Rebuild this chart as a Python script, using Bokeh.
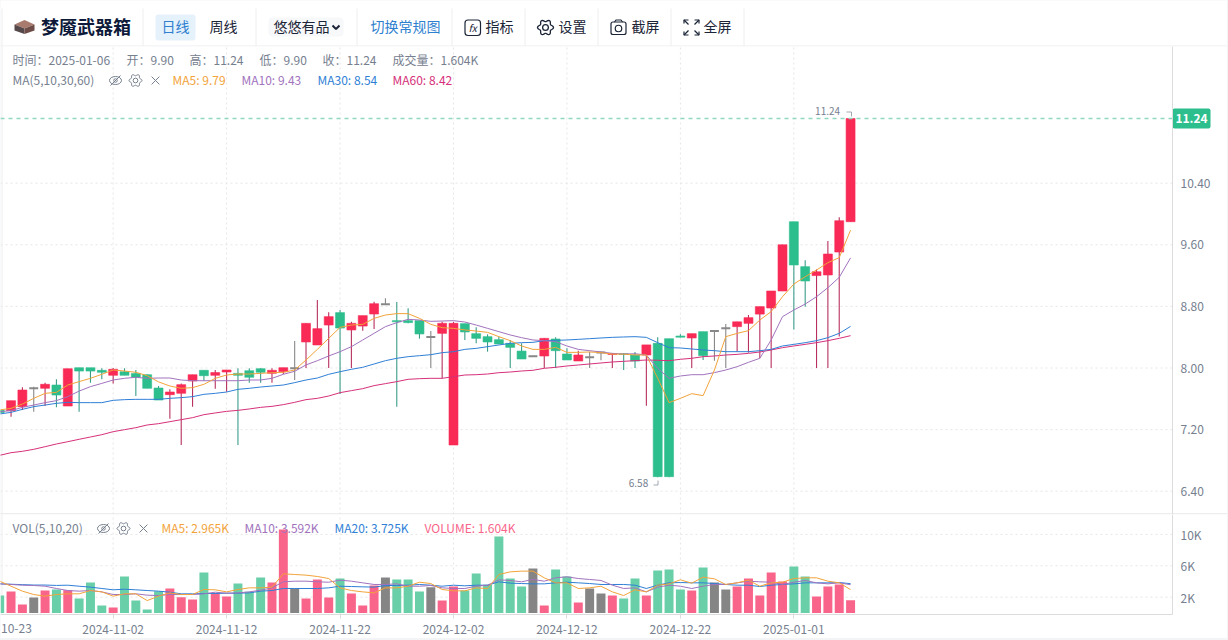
import math
from bokeh.plotting import figure
from bokeh.embed import file_html
from bokeh.resources import INLINE
from bokeh.layouts import column
from bokeh.core.properties import value
from bokeh.models import Range1d, FixedTicker, LinearAxis, NumeralTickFormatter

FONT = "Noto Sans CJK SC"

opens = [7.45,7.446,7.498,7.736,7.736,7.779,7.506,8.004,8.004,7.97,7.905,7.952,7.93,7.913,7.74,7.654,7.671,7.831,7.97,7.905,
         7.948,7.93,7.965,7.991,7.931,7.952,7.996,8.338,8.299,8.558,8.719,8.494,8.545,8.701,8.827,8.615,8.615,8.615,8.403,8.45,
         7.0,8.576,8.446,8.407,8.368,8.32,8.22,8.152,8.156,8.377,8.182,8.091,8.139,8.2,8.176,8.185,8.169,8.169,8.32,8.381,
         8.415,8.39,8.472,8.48,8.515,8.537,8.58,8.70,8.779,9.0,9.90,9.316,9.2,9.208,9.506,9.90]
highs = [7.46,7.576,7.749,7.758,7.81,7.853,7.991,8.004,8.0,7.996,8.0,7.996,7.974,7.92,7.766,7.723,7.80,7.913,7.97,7.974,
         7.974,7.996,7.996,7.996,7.996,8.004,8.35,8.58,8.883,8.723,8.753,8.60,8.68,8.861,8.905,8.857,8.775,8.615,8.48,8.60,
         8.60,8.576,8.528,8.437,8.407,8.364,8.32,8.16,8.39,8.398,8.255,8.225,8.212,8.208,8.19,8.19,8.208,8.30,8.398,8.381,
         8.437,8.446,8.472,8.49,8.571,8.60,8.688,8.797,9.0,9.60,9.90,9.40,9.28,9.65,9.957,11.24]
lows = [7.40,7.368,7.455,7.433,7.506,7.489,7.506,7.433,7.81,7.853,7.80,7.905,7.636,7.736,7.584,7.342,7.0,7.498,7.835,7.732,
        7.693,7.0,7.81,7.81,7.81,7.922,7.844,8.0,8.299,8.0,7.662,8.0,8.485,8.506,8.827,7.498,8.58,8.381,8.0,7.866,
        7.0,8.364,8.32,8.212,8.312,8.0,8.117,8.145,8.0,8.0,8.104,8.091,8.0,8.1,8.0,7.974,8.0,7.51,6.58,6.58,
        8.40,8.0,8.104,8.095,8.0,8.212,8.2,8.126,8.0,9.0,8.5,8.797,8.0,8.0,8.41,9.90]
closes = [7.42,7.576,7.714,7.736,7.788,7.649,7.991,7.96,7.96,7.944,7.983,7.905,7.879,7.736,7.584,7.688,7.784,7.913,7.90,7.94,
          7.974,7.905,7.879,7.944,7.97,8.004,7.996,8.58,8.511,8.667,8.519,8.58,8.68,8.835,8.827,8.60,8.589,8.442,8.403,8.58,
          8.58,8.468,8.385,8.338,8.312,8.268,8.117,8.152,8.385,8.225,8.104,8.169,8.139,8.2,8.185,8.176,8.09,8.30,6.589,6.589,
          8.40,8.446,8.16,8.48,8.515,8.60,8.654,8.797,9.0,9.60,9.338,9.13,9.25,9.48,9.913,11.24]
ma5 = [7.455,7.476,7.532,7.606,7.671,7.684,7.779,7.823,7.866,7.918,7.974,7.961,7.944,7.90,7.82,7.766,7.736,7.745,7.788,7.866,
       7.909,7.922,7.922,7.93,7.939,7.944,7.974,8.104,8.242,8.385,8.528,8.558,8.567,8.645,8.688,8.706,8.706,8.645,8.567,8.524,
       8.515,8.494,8.48,8.463,8.407,8.355,8.286,8.242,8.242,8.268,8.203,8.203,8.208,8.2,8.18,8.18,8.169,8.169,7.866,7.55,
       7.606,7.667,7.641,7.974,8.407,8.45,8.485,8.623,8.732,8.926,9.09,9.186,9.273,9.368,9.433,9.79]
ma10 = [7.433,7.446,7.489,7.519,7.55,7.576,7.628,7.70,7.758,7.80,7.844,7.866,7.879,7.866,7.87,7.87,7.844,7.835,7.835,7.835,
        7.835,7.835,7.844,7.844,7.866,7.918,7.957,8.04,8.095,8.156,8.212,8.277,8.364,8.45,8.537,8.589,8.632,8.623,8.606,8.61,
        8.615,8.597,8.558,8.515,8.472,8.429,8.394,8.364,8.355,8.342,8.286,8.242,8.225,8.208,8.19,8.182,8.185,8.169,7.996,7.866,
        7.896,7.913,7.913,7.94,7.974,8.017,8.074,8.126,8.364,8.667,8.753,8.831,8.926,9.043,9.177,9.43]
ma30 = [7.403,7.424,7.463,7.498,7.519,7.541,7.554,7.55,7.55,7.55,7.58,7.589,7.593,7.593,7.593,7.606,7.615,7.628,7.658,7.671,
        7.688,7.723,7.736,7.753,7.766,7.779,7.81,7.844,7.87,7.918,7.952,7.983,8.009,8.052,8.095,8.126,8.147,8.16,8.173,8.199,
        8.212,8.242,8.255,8.277,8.299,8.32,8.329,8.333,8.355,8.359,8.364,8.372,8.381,8.39,8.398,8.403,8.407,8.398,8.329,8.264,
        8.26,8.247,8.234,8.225,8.212,8.212,8.212,8.225,8.242,8.286,8.307,8.329,8.355,8.394,8.45,8.54]
ma60 = [6.866,6.9,6.918,6.944,6.978,7.013,7.043,7.074,7.104,7.134,7.173,7.199,7.225,7.26,7.277,7.303,7.329,7.355,7.394,7.416,
        7.437,7.45,7.468,7.489,7.502,7.524,7.554,7.589,7.606,7.636,7.68,7.706,7.732,7.771,7.797,7.823,7.853,7.861,7.866,7.866,
        7.887,7.909,7.913,7.922,7.939,7.948,7.961,7.97,7.996,8.009,8.026,8.039,8.052,8.065,8.078,8.087,8.095,8.104,8.1,8.095,
        8.113,8.126,8.147,8.156,8.169,8.177,8.19,8.208,8.234,8.264,8.286,8.307,8.329,8.355,8.385,8.42]
vols = [2.21,2.72,1.06,1.96,2.85,2.98,2.89,1.83,3.87,0.94,0.68,4.64,1.57,0.43,2.77,3.11,2.0,1.7,5.15,2.55,
        2.09,3.74,2.68,4.51,3.87,10.64,3.11,1.83,4.26,1.96,4.38,2.47,0.94,3.49,4.51,4.26,4.26,2.72,3.28,1.57,
        3.36,2.85,5.02,3.6,9.74,4.38,3.36,5.66,0.94,5.53,4.64,1.32,3.11,2.47,2.21,1.83,4.38,2.21,5.4,5.53,
        2.98,2.85,5.79,3.87,2.98,3.36,4.38,2.21,5.15,4.0,5.91,4.64,2.09,3.36,3.62,1.604]
vol_ma5 = [4.04,3.4,2.77,2.34,2.13,2.34,2.43,2.43,2.85,2.68,2.13,2.43,2.43,1.57,2.13,2.55,2.34,2.34,2.98,2.94,
           2.68,2.98,3.19,3.19,3.28,4.98,4.89,4.81,4.64,4.38,3.19,2.85,2.68,2.55,3.19,3.19,3.4,3.91,3.74,2.98,
           2.81,2.81,3.19,3.11,4.89,5.23,5.32,5.32,4.47,3.83,3.83,3.11,3.19,3.4,2.68,2.21,2.94,2.68,3.53,3.7,
           4.21,3.79,4.55,4.34,3.62,3.83,4.17,3.4,3.83,3.91,4.38,4.47,4.47,4.04,3.83,2.965]
vol_ma10 = [3.7,3.62,3.53,3.49,3.4,3.11,2.85,2.77,2.85,2.68,2.34,2.34,2.43,2.26,2.21,2.34,2.34,2.34,2.43,2.64,
            2.51,2.55,2.68,2.89,3.19,3.96,4.04,4.04,3.96,3.91,4.17,4.04,3.83,3.62,3.62,3.7,3.4,3.4,3.49,3.19,
            3.11,3.11,3.4,3.53,4.21,4.13,3.96,4.26,4.04,4.47,4.6,4.38,4.26,4.13,3.53,3.11,3.19,2.68,3.28,3.53,
            3.4,3.11,3.4,3.62,3.62,3.83,4.04,3.96,3.91,3.62,3.91,4.13,3.83,3.7,3.83,3.592]
vol_ma20 = [3.7,3.65,3.6,3.55,3.55,3.5,3.53,3.4,3.28,3.11,2.94,3.02,2.94,2.85,2.77,2.64,2.43,2.43,2.47,2.47,
            2.51,2.51,2.55,2.77,2.85,3.11,3.11,3.11,3.11,3.19,3.4,3.36,3.32,3.28,3.49,3.49,3.53,3.62,3.53,3.4,
            3.53,3.45,3.53,3.53,3.96,3.79,3.74,3.7,3.7,3.83,3.91,3.83,3.74,3.62,3.62,3.62,3.53,3.11,3.53,3.83,
            3.87,3.83,3.83,3.74,3.62,3.53,3.53,3.36,3.53,3.62,3.7,3.83,3.83,3.83,3.87,3.725]

first_date_label = "10-23"
date_labels = ["2024-11-02","2024-11-12","2024-11-22","2024-12-02","2024-12-12","2024-12-22","2025-01-01"]
date_ticks = [10,20,30,40,50,60,70]
price_ticks = [6.4,7.2,8.0,8.8,9.6,10.4]
vol_ticks = [2,6,10]
vol_tick_labels = ["2K","6K","10K"]
idx = list(range(len(closes)))

RED, GREEN, GRAY = "#f92a55", "#2dbe8d", "#888888"
WRED, WGREEN = "#b8305f", "#3a9d8a"
VRED, VGREEN, VGRAY = "#f9658a", "#69cfa9", "#858585"
C5, C10, C30, C60 = "#f2a33a", "#a173bd", "#2f7fd6", "#d6307a"
TXT, DARK = "#76808f", "#1b2537"
GRID, LINE = "#e6e6e6", "#dcdcdc"

W = 1227
RIGHT = 1172
PER = 11.345
x_of_px = lambda px: (px + 0.8) / PER
xr = (x_of_px(0), x_of_px(W))
AXIS_X = x_of_px(RIGHT)
V_PX = 7.85                     # pixels per 1K of volume
V_ZERO = 612.4                  # pixel row of zero volume
V_TOP, V_BOTTOM = (V_ZERO - 514) / V_PX, (V_ZERO - 614) / V_PX

def ptext(p, x, y, s, color=TXT, size=12, style="normal", align="left", name=None):
    kw = {"x_range_name": name, "y_range_name": name} if name else {}
    p.text([x], [y - 1.5], text=[s], text_color=color, text_font=value(FONT), text_font_size=f"{size}px",
           text_font_style=style, text_align=align, text_baseline="middle", **kw)

def add_px(p, top, bottom):
    p.extra_x_ranges["px"] = Range1d(0, W)
    p.extra_y_ranges["px"] = Range1d(bottom, top)

def gear(p, x, y, size, color, width=1.0, name=None):
    kw = {"x_range_name": name, "y_range_name": name} if name else {}
    r = size / 2
    n = 60
    xs = [x + r * (0.86 + 0.14 * math.cos(6 * 2 * math.pi * k / n)) * math.cos(2 * math.pi * k / n) for k in range(n)]
    ys = [y + r * (0.86 + 0.14 * math.cos(6 * 2 * math.pi * k / n)) * math.sin(2 * math.pi * k / n) for k in range(n)]
    p.patch(xs, ys, fill_color=None, line_color=color, line_width=width, **kw)
    p.scatter([x], [y], marker="circle", size=size * 0.36, fill_color=None, line_color=color, line_width=width, **kw)

def legend_icons(p, xe, xg, xx, y):
    kw = {"x_range_name": "px", "y_range_name": "px"}
    p.ellipse([xe], [y], width=12, height=8, fill_color=None, line_color=TXT, line_width=1, **kw)
    p.scatter([xe], [y], marker="circle", size=3.5, fill_color=None, line_color=TXT, line_width=1, **kw)
    p.line([xe - 5, xe + 5], [y + 5, y - 5], line_color=TXT, line_width=1, **kw)
    gear(p, xg, y, 13, TXT, 1.0, "px")
    p.scatter([xx], [y], marker="x", size=11, line_color=TXT, line_width=1, **kw)

def y_axis(p, ticks, bounds, labels=None, fmt=None):
    a = LinearAxis(fixed_location=AXIS_X, ticker=FixedTicker(ticks=ticks), bounds=bounds)
    if labels:
        a.major_label_overrides = dict(zip(ticks, labels))
    if fmt:
        a.formatter = NumeralTickFormatter(format=fmt)
    a.axis_line_color = LINE
    a.major_tick_line_color = None
    a.minor_tick_line_color = None
    a.major_label_text_color = TXT
    a.major_label_text_font = FONT
    a.major_label_text_font_size = "12px"
    a.major_label_standoff = 2
    p.add_layout(a, "right")

def grids(p, ymin, ymax, yticks):
    p.segment(date_ticks, ymin, date_ticks, ymax, line_color=GRID, line_dash="2 3", line_width=1, level="underlay")
    p.segment(x_of_px(0), yticks, AXIS_X, yticks, line_color=GRID, line_dash="2 3", line_width=1, level="underlay")

# ---------- header ----------
h = figure(width=W, height=46, x_range=Range1d(0, W), y_range=Range1d(46, 0),
           x_axis_location=None, y_axis_location=None, output_backend="svg", toolbar_location=None,
           min_border=0, outline_line_color=None, background_fill_color="#ffffff")
h.center = []
h.line([0, W], [45.5, 45.5], line_color="#ececec", line_width=1)
h.segment([1.5, 142.5, 255.5, 356.5, 451.5, 524.5, 597.5, 670.5, 743.5], 8,
          [1.5, 142.5, 255.5, 356.5, 451.5, 524.5, 597.5, 670.5, 743.5], 45.5, line_color="#eeeeee", line_width=1)
# logo
h.patch([14, 24, 34, 24], [24, 19.5, 24, 28], fill_color="#a97b6e", line_color=None)
h.patch([14, 24, 24, 14], [24, 28, 33.5, 30], fill_color="#54484a", line_color=None)
h.patch([34, 24, 24, 34], [24, 28, 33.5, 30], fill_color="#6e4d48", line_color=None)
ptext(h, 40.5, 27, "梦魇武器箱", "#0d1a3a", 18, "bold")
h.quad(left=[155], right=[195], top=[14], bottom=[40], fill_color="#e5f1fb", line_color=None, border_radius=3)
ptext(h, 175, 27, "日线", "#2f7fd0", 14, align="center")
ptext(h, 223, 27, "周线", DARK, 14, align="center")
h.quad(left=[268], right=[343], top=[17], bottom=[36], fill_color="#f7f8fa", line_color=None, border_radius=4)
ptext(h, 273, 27, "悠悠有品", DARK, 14)
h.line([332, 335.5, 339], [25, 28.5, 25], line_color=DARK, line_width=2)
ptext(h, 370, 27, "切换常规图", "#2f7fd0", 14)
# fx
h.quad(left=[464.5], right=[480], top=[19.5], bottom=[35], fill_color=None, line_color=DARK, line_width=1.2, border_radius=3)
ptext(h, 472.2, 28.5, "fx", DARK, 10, "italic", "center")
ptext(h, 485, 27, "指标", DARK, 14)
gear(h, 545, 27, 16, DARK, 1.3)
ptext(h, 558, 27, "设置", DARK, 14)
h.quad(left=[610.5], right=[625.5], top=[21.5], bottom=[34], fill_color=None, line_color=DARK, line_width=1.2, border_radius=2)
h.line([614, 615.5, 620.5, 622], [21.5, 19.5, 19.5, 21.5], line_color=DARK, line_width=1.2)
h.scatter([618], [28], marker="circle", size=6.5, fill_color=None, line_color=DARK, line_width=1.2)
ptext(h, 631, 27, "截屏", DARK, 14)
h.multi_line([[683.5, 683.5, 688], [698.5, 698.5, 694], [683.5, 683.5, 688], [698.5, 698.5, 694],
              [683.5, 688], [698.5, 694], [683.5, 688], [698.5, 694]],
             [[23, 19.5, 19.5], [23, 19.5, 19.5], [31, 34.5, 34.5], [31, 34.5, 34.5],
              [19.5, 24], [19.5, 24], [34.5, 30], [34.5, 30]], line_color=DARK, line_width=1.2)
ptext(h, 703, 27, "全屏", DARK, 14)

# ---------- price pane ----------
P_BOTTOM, P_TOP = 8 - 146.5 / 77, 8 + 321.5 / 77
p = figure(width=W, height=468, x_range=Range1d(*xr), y_range=Range1d(P_BOTTOM, P_TOP),
           x_axis_location=None, y_axis_location=None, output_backend="svg", toolbar_location=None,
           min_border=0, outline_line_color=None)
p.center = []
add_px(p, 46, 514)
grids(p, P_BOTTOM, P_TOP, price_ticks)
y_axis(p, price_ticks, (P_BOTTOM, P_TOP), fmt="0.00")

p.line([1.5, 1.5], [46, 514], x_range_name="px", y_range_name="px", line_color="#eeeeee", line_width=1)
p.line([0, W], [513.5, 513.5], x_range_name="px", y_range_name="px", line_color=LINE, line_width=1)

wick_colors = [WRED if c > o else WGREEN if c < o else GRAY for o, c in zip(opens, closes)]
body_colors = [RED if c > o else GREEN if c < o else GRAY for o, c in zip(opens, closes)]
p.segment(idx, highs, idx, lows, line_color=wick_colors, line_width=1.1)
nz = [i for i in idx if opens[i] != closes[i]]
dj = [i for i in idx if opens[i] == closes[i]]
p.vbar([i for i in nz], width=0.79, bottom=[min(opens[i], closes[i]) for i in nz],
       top=[max(opens[i], closes[i]) for i in nz], fill_color=[body_colors[i] for i in nz],
       line_color=[body_colors[i] for i in nz], line_width=0.6)
p.vbar([i for i in dj], width=0.79, bottom=[opens[i] for i in dj], top=[closes[i] for i in dj],
       fill_color=GRAY, line_color=GRAY, line_width=2)
for series, col in ((ma60, C60), (ma30, C30), (ma10, C10), (ma5, C5)):
    p.line(idx, series, line_color=col, line_width=1)

p.line([x_of_px(0), AXIS_X], [closes[-1], closes[-1]], line_color="#8fd8c0", line_dash="4 4", line_width=1.5)
# last-price tag
p.quad(left=[1172], right=[1210], top=[108], bottom=[128], x_range_name="px", y_range_name="px",
       fill_color="#2dbe8d", line_color=None, border_radius=2)
ptext(p, 1191, 119, f"{closes[-1]:.2f}", "#ffffff", 12, "bold", "center", "px")
# high / low markers
p.text([75], [max(highs)], text=[f"{max(highs):.2f}"], x_offset=-10.5, y_offset=-8, text_align="right", text_baseline="middle",
       text_color=TXT, text_font=value(FONT), text_font_size="10px")
p.text([58], [min(lows)], text=[f"{min(lows):.2f}"], x_offset=-9.5, y_offset=6, text_align="right", text_baseline="middle",
       text_color=TXT, text_font=value(FONT), text_font_size="10px")
p.multi_line([[846, 851, 851]], [[111.5, 111.5, 116]], x_range_name="px", y_range_name="px", line_color="#8a93a0", line_width=0.8)
p.multi_line([[653, 657.5, 657.5]], [[484.5, 484.5, 480]], x_range_name="px", y_range_name="px", line_color="#8a93a0", line_width=0.8)

row1 = [(12, "时间：2025-01-06"), (126, "开：9.90"), (189, "高：11.24"), (259, "低：9.90"), (322, "收：11.24"), (392, "成交量：1.604K")]
for x, s in row1:
    ptext(p, x, 60.5, s, name="px")
ptext(p, 12, 80.5, "MA(5,10,30,60)", name="px")
legend_icons(p, 115, 135, 155, 80)
for x, s, c in ((172, "MA5: 9.79", C5), (241, "MA10: 9.43", C10), (317, "MA30: 8.54", C30), (392, "MA60: 8.42", C60)):
    ptext(p, x, 80.5, s, c, name="px")

# ---------- volume pane ----------
v = figure(width=W, height=124, x_range=Range1d(*xr), y_range=Range1d((V_ZERO - 638) / V_PX, V_TOP),
           x_axis_location=None, y_axis_location=None, output_backend="svg", toolbar_location=None,
           min_border=0, outline_line_color=None)
v.center = []
add_px(v, 514, 638)
grids(v, V_BOTTOM, V_TOP, vol_ticks)
y_axis(v, vol_ticks, (V_BOTTOM, V_TOP), labels=vol_tick_labels)
axx = LinearAxis(fixed_location=V_BOTTOM, ticker=FixedTicker(ticks=date_ticks), bounds=(x_of_px(0), AXIS_X))
axx.major_label_overrides = dict(zip(date_ticks, date_labels))
axx.axis_line_color = LINE
axx.major_tick_line_color = LINE
axx.major_tick_in = 0
axx.major_tick_out = 4
axx.minor_tick_line_color = None
axx.major_label_text_color = TXT
axx.major_label_text_font = FONT
axx.major_label_text_font_size = "12px"
axx.major_label_standoff = 6
v.add_layout(axx, "below")

v.line([1.5, 1.5], [514, 614], x_range_name="px", y_range_name="px", line_color="#eeeeee", line_width=1)
vol_colors = [VRED if c > o else VGREEN if c < o else VGRAY for o, c in zip(opens, closes)]
v.vbar(idx, width=0.79, bottom=0, top=vols, fill_color=vol_colors, line_color=None)
for series, col in ((vol_ma20, C30), (vol_ma10, C10), (vol_ma5, C5)):
    v.line(idx, series, line_color=col, line_width=1)
ptext(v, 12, 528.5, "VOL(5,10,20)", name="px")
legend_icons(v, 103, 123, 143, 528)
for x, s, c in ((161, "MA5: 2.965K", C5), (244, "MA10: 3.592K", C10), (334, "MA20: 3.725K", C30), (424, "VOLUME: 1.604K", VRED)):
    ptext(v, x, 528.5, s, c, name="px")
ptext(v, 0.5, 629.5, first_date_label, name="px")

page = column(h, p, v, spacing=0, width=1228, height=640, styles={"background-color": "#f3f4f6"})
open("out.html", "w").write(file_html(page, INLINE))
